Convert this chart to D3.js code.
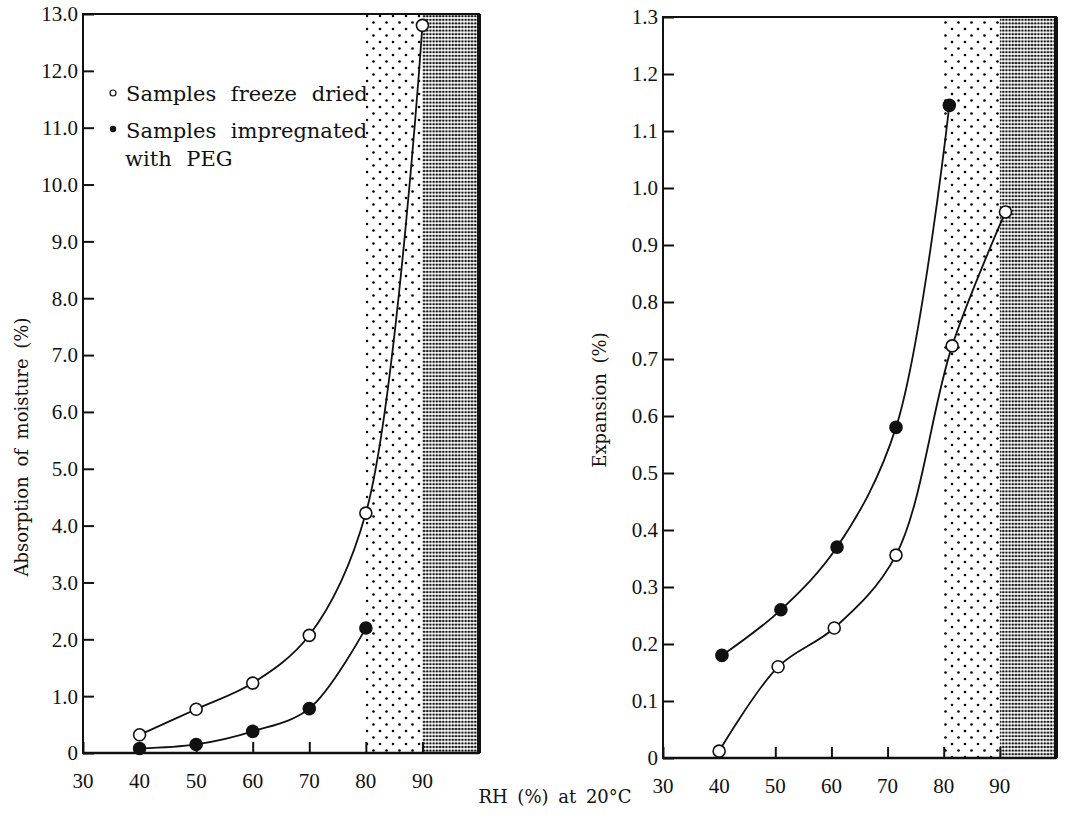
<!DOCTYPE html>
<html>
<head>
<meta charset="utf-8">
<script src="https://cdn.jsdelivr.net/npm/d3@7"></script>
<style>
  body { margin: 0; background: #fff; }
  svg { display: block; }
  .tick-label { font-family: "Liberation Serif", serif; font-size: 21px; fill: #111; }
  .title { font-family: "DejaVu Serif", serif; font-size: 18px; fill: #111; word-spacing: 4px; }
  .legend { font-family: "DejaVu Serif", serif; font-size: 21px; fill: #111; word-spacing: 8px; }
</style>
</head>
<body>
<div id="chart"></div>
<script>
var svgWidth = 1069;
var svgHeight = 818;

// x values (RH %) and readings, left panel: absorption of moisture (%)
var rhFreezeLeft = [40, 50, 60, 70, 80, 90];
var moistureFreeze = [0.32, 0.77, 1.23, 2.07, 4.22, 12.8];
var rhPegLeft = [40, 50, 60, 70, 80];
var moisturePeg = [0.08, 0.15, 0.38, 0.78, 2.2];

// right panel: expansion (%)
var rhFreezeRight = [40, 50.5, 60.5, 71.5, 81.5, 91];
var expansionFreeze = [0.012, 0.16, 0.228, 0.356, 0.723, 0.958];
var rhPegRight = [40.5, 51, 61, 71.5, 81];
var expansionPeg = [0.18, 0.26, 0.37, 0.58, 1.145];

// tick labels
var xTicks = [30, 40, 50, 60, 70, 80, 90];
var moistureTicks = [0, 1, 2, 3, 4, 5, 6, 7, 8, 9, 10, 11, 12, 13];
var expansionTicks = [0, 0.1, 0.2, 0.3, 0.4, 0.5, 0.6, 0.7, 0.8, 0.9, 1.0, 1.1, 1.2, 1.3];

// shaded RH bands
var lightBand = [80, 90];
var darkBand = [90, 100];

var svg = d3.select("#chart")
  .append("svg")
  .attr("width", svgWidth)
  .attr("height", svgHeight);

// dot screens for the two bands
var defs = svg.append("defs");
var light = defs.append("pattern")
  .attr("id", "lightDots")
  .attr("patternUnits", "userSpaceOnUse")
  .attr("width", 13).attr("height", 13);
light.append("rect").attr("width", 13).attr("height", 13).attr("fill", "#fff");
light.append("circle").attr("cx", 3).attr("cy", 3).attr("r", 1.3).attr("fill", "#000");
light.append("circle").attr("cx", 9.5).attr("cy", 9.5).attr("r", 1.3).attr("fill", "#000");

var dark = defs.append("pattern")
  .attr("id", "darkDots")
  .attr("patternUnits", "userSpaceOnUse")
  .attr("width", 3.2).attr("height", 3.6);
dark.append("rect").attr("width", 3.2).attr("height", 3.6).attr("fill", "#fff");
dark.append("ellipse").attr("cx", 1.6).attr("cy", 1.8).attr("rx", 1.3).attr("ry", 1.1).attr("fill", "#111");

function drawPanel(p) {
  var x = d3.scaleLinear().domain([30, 100]).range([p.left, p.right]);
  var y = d3.scaleLinear().domain([0, p.yMax]).range([p.bottom, p.top]);
  var g = svg.append("g");

  // bands
  g.append("rect")
    .attr("x", x(lightBand[0])).attr("y", y(p.yMax))
    .attr("width", x(lightBand[1]) - x(lightBand[0]))
    .attr("height", y(0) - y(p.yMax))
    .attr("fill", "url(#lightDots)");
  g.append("rect")
    .attr("x", x(darkBand[0])).attr("y", y(p.yMax))
    .attr("width", x(darkBand[1]) - x(darkBand[0]))
    .attr("height", y(0) - y(p.yMax))
    .attr("fill", "url(#darkDots)");

  // axes with inward ticks
  var bottomAxis = d3.axisBottom(x).tickValues(xTicks).tickSizeInner(-11).tickSizeOuter(0).tickFormat("");
  var leftAxis = d3.axisLeft(y).tickValues(p.yTicks).tickSizeInner(-11).tickSizeOuter(0).tickFormat("");
  g.append("g").attr("transform", `translate(0, ${y(0)})`).call(bottomAxis)
    .call(a => a.select(".domain").remove())
    .selectAll("line").attr("stroke", "#111").attr("stroke-width", 2);
  g.append("g").attr("transform", `translate(${x(30)}, 0)`).call(leftAxis)
    .call(a => a.select(".domain").remove())
    .selectAll("line").attr("stroke", "#111").attr("stroke-width", 2);

  // frame
  g.append("rect")
    .attr("x", x(30)).attr("y", y(p.yMax))
    .attr("width", x(100) - x(30)).attr("height", y(0) - y(p.yMax))
    .attr("fill", "none").attr("stroke", "#111").attr("stroke-width", 2);
  g.append("line")
    .attr("x1", x(100)).attr("x2", x(100))
    .attr("y1", y(p.yMax)).attr("y2", y(0))
    .attr("stroke", "#111").attr("stroke-width", 4);
  g.append("line")
    .attr("x1", x(30)).attr("x2", x(100))
    .attr("y1", y(0)).attr("y2", y(0))
    .attr("stroke", "#111").attr("stroke-width", 2.5);

  // tick labels
  g.selectAll(".xl").data(xTicks).enter().append("text")
    .attr("class", "tick-label")
    .attr("x", d => x(d)).attr("y", p.xLabelY)
    .attr("text-anchor", "middle")
    .text(d => d);
  g.selectAll(".yl").data(p.yTicks).enter().append("text")
    .attr("class", "tick-label")
    .attr("x", x(30) - 5).attr("y", d => y(d))
    .attr("dy", "0.35em")
    .attr("text-anchor", "end")
    .text(d => d === 0 ? "0" : d.toFixed(1));

  // y title
  g.append("text")
    .attr("class", "title")
    .attr("transform", `translate(${p.titleX}, ${p.titleY}) rotate(-90)`)
    .attr("text-anchor", "middle")
    .text(p.title);

  // curves and points
  var line = d3.line().x(d => x(d[0])).y(d => y(d[1])).curve(d3.curveCatmullRom.alpha(0.5));
  p.series.forEach(function(s) {
    var pts = s.xs.map((v, i) => [v, s.ys[i]]);
    g.append("path").datum(pts)
      .attr("d", line)
      .attr("fill", "none").attr("stroke", "#111").attr("stroke-width", 1.8);
    g.selectAll(null).data(pts).enter().append("circle")
      .attr("cx", d => x(d[0])).attr("cy", d => y(d[1]))
      .attr("r", 6)
      .attr("fill", s.filled ? "#111" : "#fff")
      .attr("stroke", "#111").attr("stroke-width", 1.6);
  });
  return g;
}

var leftPanel = drawPanel({
  left: 83, right: 479, top: 14, bottom: 753, yMax: 13,
  yTicks: moistureTicks, xLabelY: 788,
  title: "Absorption of moisture (%)", titleX: 28, titleY: 447,
  series: [
    { xs: rhFreezeLeft, ys: moistureFreeze, filled: false },
    { xs: rhPegLeft, ys: moisturePeg, filled: true }
  ]
});

drawPanel({
  left: 663, right: 1056, top: 17, bottom: 758, yMax: 1.3,
  yTicks: expansionTicks, xLabelY: 793,
  title: "Expansion (%)", titleX: 606, titleY: 400,
  series: [
    { xs: rhFreezeRight, ys: expansionFreeze, filled: false },
    { xs: rhPegRight, ys: expansionPeg, filled: true }
  ]
});

// legend
var legend = svg.append("g");
legend.append("circle").attr("cx", 113).attr("cy", 93).attr("r", 3)
  .attr("fill", "#fff").attr("stroke", "#111").attr("stroke-width", 1.2);
legend.append("circle").attr("cx", 113).attr("cy", 129).attr("r", 3.2).attr("fill", "#111");
legend.append("text").attr("class", "legend").attr("x", 126).attr("y", 101).text("Samples freeze dried");
legend.append("text").attr("class", "legend").attr("x", 126).attr("y", 138).text("Samples impregnated");
legend.append("text").attr("class", "legend").attr("x", 125).attr("y", 166).text("with PEG");

// shared x title
svg.append("text")
  .attr("class", "title")
  .attr("x", 555).attr("y", 803)
  .attr("text-anchor", "middle")
  .text("RH (%) at 20°C");
</script>
</body>
</html>
